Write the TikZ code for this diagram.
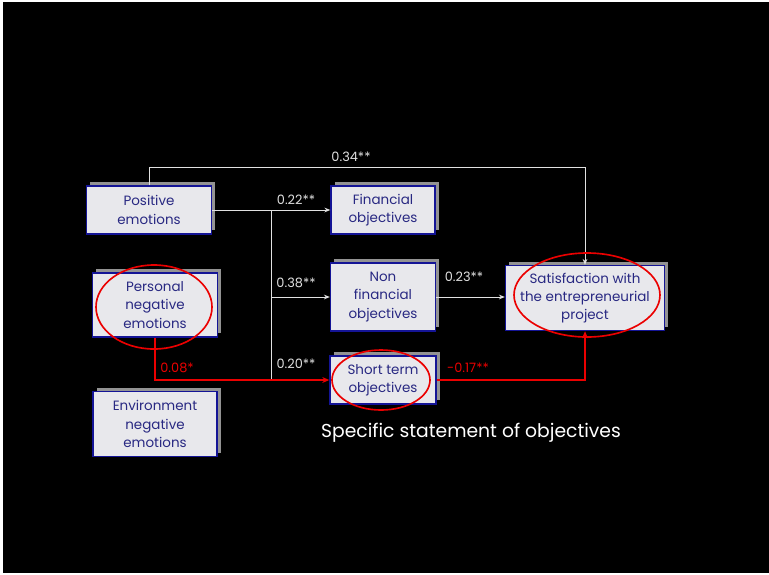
\documentclass[tikz,border=0pt]{standalone}
\usepackage{fontspec}
\setmainfont{Poppins}
\usetikzlibrary{arrows.meta,shadows}

\definecolor{navy}{RGB}{40,40,130}
\definecolor{boxline}{RGB}{20,20,150}
\definecolor{boxfill}{RGB}{232,232,236}
\definecolor{lblgray}{RGB}{225,225,225}
\definecolor{hired}{RGB}{235,0,0}

\begin{document}
\begin{tikzpicture}[x=0.03cm,y=-0.03cm]
\tikzset{
	box/.style={draw=boxline, line width=1.2pt, fill=boxfill, text=navy,
		align=center, inner sep=0pt, font=\fontsize{11.5}{15.5}\selectfont,
		drop shadow={shadow xshift=0.11cm, shadow yshift=0.11cm, fill=gray!85, opacity=1}},
	wline/.style={draw=lblgray, line width=0.7pt},
	rline/.style={draw=hired, line width=1.6pt},
	ring/.style={draw=hired, line width=1.4pt},
	lbl/.style={text=lblgray, font=\fontsize{11}{13}\selectfont, inner sep=0pt},
	rlbl/.style={text=hired, font=\fontsize{11}{13}\selectfont, inner sep=0pt}
}

% page
\fill[white] (0,0) rectangle (769,574);
\fill[black] (3,2) rectangle (769,573);

% emotions
\node[box, minimum width=125*0.03cm, minimum height=48*0.03cm] (e_pos) at(149,210) {Positive\\emotions};
\node[box, minimum width=125*0.03cm, minimum height=64*0.03cm] (e_per) at(155,305) {Personal\\negative\\emotions};
\node[box, minimum width=124*0.03cm, minimum height=65*0.03cm] (e_env) at(155,424) {Environment\\negative\\emotions};

% objectives
\node[box, minimum width=104*0.03cm, minimum height=48*0.03cm] (o_fin) at(383,210) {Financial\\objectives};
\node[box, minimum width=105*0.03cm, minimum height=68*0.03cm] (o_non) at(383,297) {Non\\financial\\objectives};
\node[box, minimum width=106*0.03cm, minimum height=48*0.03cm] (o_sho) at(383,380) {Short term\\objectives};

% satisfaction
\node[box, minimum width=159*0.03cm, minimum height=65*0.03cm] (sat) at(585,298) {Satisfaction with\\the entrepreneurial\\project};

% junctions
\coordinate (c_34) at (149,167);
\coordinate (j_1) at (271,210);
\coordinate (j_3) at (271,380);

% white paths
\draw[wline,-{Stealth[length=5pt,width=4pt]}] (e_pos.north) -- (c_34) -| (sat.north);
\draw[wline,-{Stealth[length=5pt,width=4pt]}] (e_pos.east) -- (o_fin.west);
\draw[wline] (j_1) -- (j_3);
\draw[wline,-{Stealth[length=5pt,width=4pt]}] (j_1 |- o_non.west) -- (o_non.west);
\draw[wline,-{Stealth[length=5pt,width=4pt]}] (o_non.east) -- (sat.west |- o_non.east);

% red paths
\draw[rline,-{Stealth[length=6pt,width=5pt]}] (e_per.south) |- (o_sho.west);
\draw[rline,-{Stealth[length=6pt,width=5pt]}] (o_sho.east) -| (sat.south);

% rings
\draw[ring] (154,307) ellipse [x radius=58, y radius=42];
\draw[ring] (381,380) ellipse [x radius=49, y radius=30];
\draw[ring] (587,295) ellipse [x radius=73, y radius=42];

% coefficients
\node[lbl] (l_34) at (351,157) {0.34**};
\node[lbl] (l_22) at (296,200) {0.22**};
\node[lbl] (l_38) at (296,283) {0.38**};
\node[lbl] (l_20) at (296,364) {0.20**};
\node[lbl] (l_23) at (464,277) {0.23**};
\node[rlbl] (l_08) at (177,368) {0.08*};
\node[rlbl] (l_17) at (468,368) {-0.17**};

% caption
\node[text=white, font=\fontsize{16}{18}\selectfont, inner sep=0pt] (cap) at (471,433) {Specific statement of objectives};

\end{tikzpicture}
\end{document}
